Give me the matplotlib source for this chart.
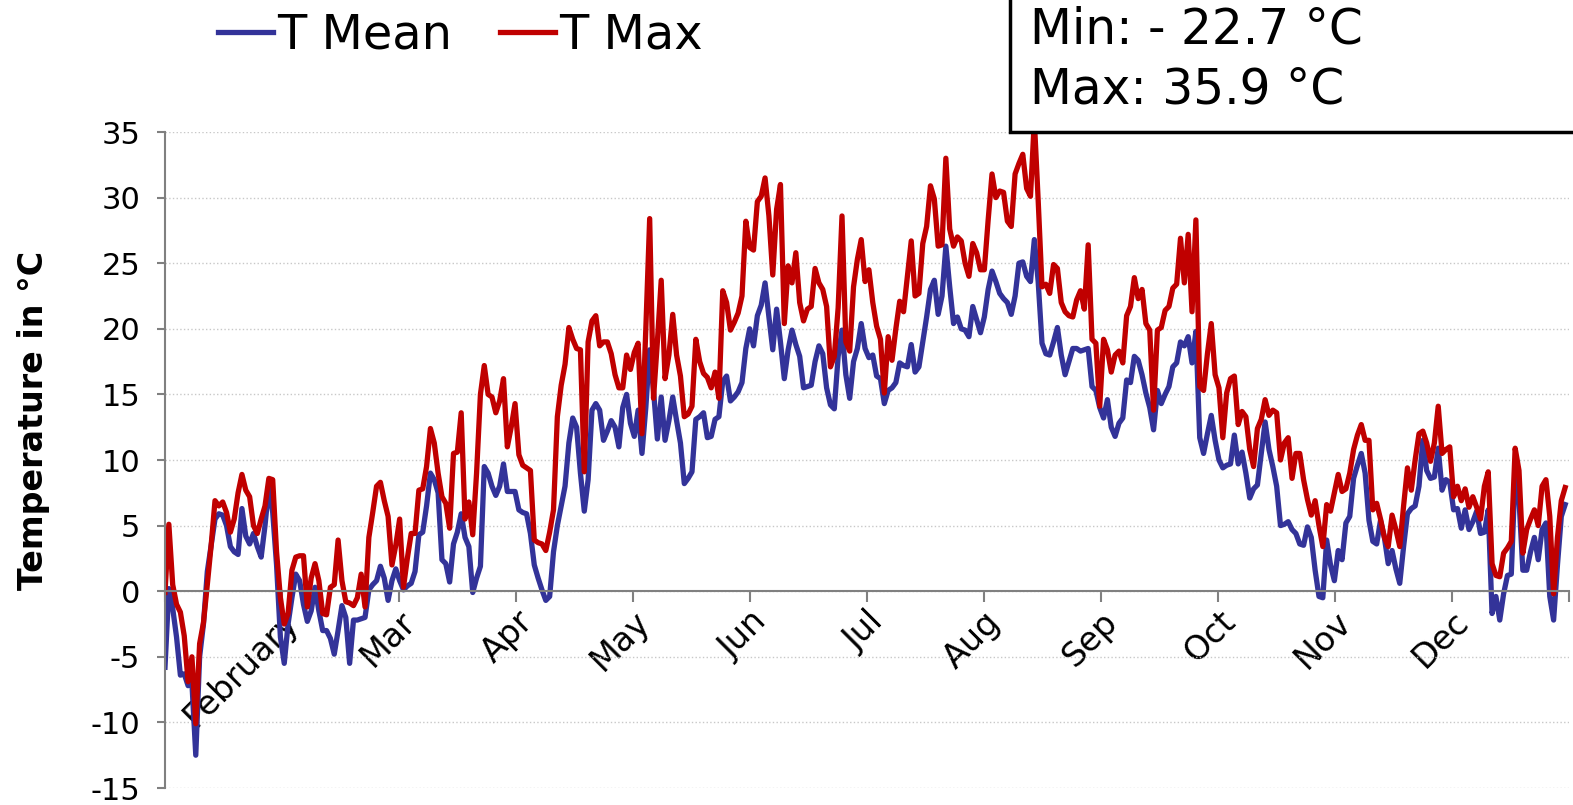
import numpy as np
import matplotlib.pyplot as plt
from matplotlib.patches import Rectangle

plt.rcParams['font.family'] = ['DejaVu Sans']
plt.rcParams['axes.unicode_minus'] = False

# Daily mean temperature (°C), one value per day of the year
t_mean = [
    -5.8, 0.2, -1.3, -3.5, -6.4, -6.3, -7.2, -7.0, -12.5, -5.0,
    -2.5, 1.5, 3.5, 5.5, 5.9, 5.8, 5.0, 3.4, 3.0, 2.8,
    6.3, 4.2, 3.6, 4.4, 3.4, 2.6, 5.0, 8.0, 6.0, 2.0,
    -3.5, -5.5, -2.5, -0.5, 1.3, 0.8, -1.0, -2.3, -1.5, 0.3,
    -1.5, -3.0, -3.0, -3.6, -4.8, -3.0, -1.1, -2.0, -5.5, -2.2,
    -2.2, -2.1, -2.0, 0.1, 0.5, 0.8, 1.9, 1.0, -0.7, 0.8,
    1.7, 0.8, 0.1, 0.4, 0.6, 1.5, 4.3, 4.5, 6.5, 9.0,
    8.5, 7.5, 2.4, 2.1, 0.7, 3.6, 4.5, 5.9, 4.1, 3.4,
    -0.1, 1.0, 1.9, 9.5, 9.0, 8.0, 7.3, 8.0, 9.7, 7.6,
    7.6, 7.6, 6.2, 6.0, 5.9, 4.4, 2.0, 1.0, 0.1, -0.7,
    -0.4, 3.0, 5.0, 6.5, 8.0, 11.3, 13.2, 12.5, 9.0, 6.1,
    8.5, 13.8, 14.3, 13.8, 11.5, 12.2, 13.0, 12.5, 11.0, 14.0,
    15.0, 12.8, 11.8, 13.8, 10.5, 14.0, 18.4, 15.3, 11.6, 14.8,
    11.5, 13.0, 14.8, 13.0, 11.3, 8.2, 8.6, 9.1, 13.1, 13.3,
    13.6, 11.7, 11.8, 13.1, 13.3, 16.0, 16.4, 14.5, 14.8, 15.2,
    15.9, 18.5, 20.0, 18.7, 21.0, 21.8, 23.5, 20.9, 18.4, 21.5,
    19.0, 16.2, 18.4, 19.9, 18.8, 17.9, 15.5, 15.6, 15.7, 17.5,
    18.7, 18.1, 15.5, 14.2, 13.9, 17.9, 19.9, 16.5, 14.7, 17.5,
    18.5, 20.4, 18.5, 17.8, 18.0, 16.4, 16.2, 14.3, 15.3, 15.5,
    15.9, 17.4, 17.2, 17.1, 18.8, 16.7, 17.1, 19.0, 20.9, 23.0,
    23.7, 21.1, 22.5, 26.3, 23.2, 20.4, 20.9, 20.0, 19.9, 19.4,
    21.7, 20.7, 19.7, 20.9, 23.0, 24.4, 23.6, 22.7, 22.3, 22.0,
    21.1, 22.5, 25.0, 25.1, 24.0, 23.6, 26.8, 23.6, 18.9, 18.1,
    18.0, 19.0, 20.1, 18.0, 16.5, 17.5, 18.5, 18.5, 18.3, 18.4,
    18.5, 15.6, 15.3, 14.0, 13.2, 14.6, 12.5, 11.8, 12.8, 13.2,
    16.1, 15.9, 17.9, 17.6, 16.5, 15.1, 14.0, 12.3, 15.3, 14.3,
    15.0, 15.6, 17.1, 17.4, 19.0, 18.7, 19.4, 17.4, 19.8, 11.7,
    10.5, 12.0, 13.4, 11.5, 10.0, 9.4, 9.6, 9.7, 11.9, 9.7,
    10.6, 9.0, 7.1, 7.8, 8.1, 10.5, 12.9, 10.8, 9.5, 8.0,
    5.0, 5.1, 5.3, 4.7, 4.4, 3.6, 3.5, 4.9, 4.1, 1.6,
    -0.4, -0.5, 3.9, 2.0, 0.8, 3.1, 2.4, 5.2, 5.7, 8.6,
    9.6, 10.5, 9.0, 5.4, 3.8, 3.6, 5.4, 4.1, 2.1, 3.1,
    1.7, 0.6, 3.4, 5.9, 6.3, 6.5, 8.0, 11.5, 9.2, 8.6,
    8.7, 10.9, 7.7, 8.5, 8.3, 6.2, 6.3, 4.8, 6.2, 4.7,
    5.3, 6.1, 4.4, 4.5, 6.2, -1.7, -0.4, -2.2, -0.2, 1.2,
    1.3, 9.0, 7.0, 1.6, 1.6, 3.0, 4.1, 2.4, 4.7, 5.2,
    -0.4, -2.2, 2.0, 5.7, 6.6,
]

# Daily maximum temperature (°C)
t_max = [
    -0.1, 5.1, 0.5, -1.0, -1.6, -3.4, -6.9, -5.0, -10.1, -4.0,
    -2.4, 0.5, 3.5, 6.9, 6.5, 6.8, 6.0, 4.5, 5.5, 7.5,
    8.9, 7.7, 7.2, 5.0, 4.4, 5.5, 6.5, 8.6, 8.5, 3.0,
    -0.5, -2.5, -1.7, 1.6, 2.6, 2.7, 2.7, -1.2, 1.0, 2.1,
    0.8, -1.7, -1.8, 0.3, 0.5, 3.9, 0.8, -0.8, -0.9, -1.1,
    -0.5, 1.3, -1.2, 4.1, 6.0, 8.0, 8.3, 6.9, 5.7, 2.0,
    3.5, 5.5, 0.3, 2.5, 4.4, 4.4, 7.7, 7.8, 9.5, 12.4,
    11.3, 9.0, 7.2, 6.7, 4.8, 10.5, 10.6, 13.6, 5.5, 6.8,
    4.3, 9.0, 15.0, 17.2, 15.0, 14.8, 13.6, 14.5, 16.2, 11.0,
    12.5, 14.3, 10.4, 9.6, 9.4, 9.2, 3.9, 3.7, 3.6, 3.1,
    4.5, 6.2, 13.3, 15.7, 17.3, 20.1, 19.2, 18.5, 18.4, 9.1,
    19.0, 20.6, 21.0, 18.7, 19.0, 19.0, 18.1, 16.5, 15.5, 15.5,
    18.0, 16.9, 18.2, 18.9, 12.0, 20.0, 28.4, 14.7, 19.0, 23.7,
    16.2, 18.0, 21.1, 18.0, 16.4, 13.3, 13.5, 14.1, 19.2, 17.5,
    16.6, 16.3, 15.5, 16.7, 14.7, 22.9, 22.0, 19.9, 20.5, 21.2,
    22.5, 28.2, 26.2, 26.0, 29.7, 30.1, 31.5, 28.6, 24.1, 29.1,
    31.0, 20.4, 24.8, 23.5, 25.8, 22.0, 20.6, 21.5, 21.7, 24.6,
    23.5, 23.0, 21.7, 17.1, 17.9, 21.6, 28.6, 19.0, 18.3, 23.2,
    25.3, 26.8, 23.6, 24.5, 22.0, 20.2, 19.2, 15.1, 19.4, 17.6,
    20.0, 22.1, 21.3, 24.0, 26.7, 22.5, 22.7, 26.5, 27.8, 30.9,
    29.9, 26.3, 26.4, 33.0, 27.6, 26.3, 27.0, 26.7, 25.0, 24.0,
    26.5, 25.8, 24.5, 24.5, 28.3, 31.8, 30.0, 30.5, 30.4, 28.2,
    27.8, 31.8, 32.6, 33.3, 30.7, 30.1, 35.9, 29.8, 23.2, 23.4,
    22.7, 24.9, 24.6, 22.0, 21.3, 21.0, 20.9, 22.2, 22.9, 21.5,
    26.4, 19.2, 18.9, 14.1, 19.2, 18.4, 16.7, 18.0, 18.3, 17.4,
    21.0, 21.7, 23.9, 22.3, 23.0, 20.4, 19.9, 13.8, 19.9, 20.1,
    21.4, 21.7, 23.1, 23.4, 26.9, 23.5, 27.2, 21.3, 28.3, 15.6,
    15.3, 18.1, 20.4, 16.5, 15.5, 11.7, 15.1, 16.2, 16.4, 12.7,
    13.7, 13.3, 10.8, 9.5, 12.4, 13.1, 14.6, 13.4, 13.8, 13.6,
    10.0, 11.3, 11.7, 8.6, 10.5, 10.5, 8.5, 7.0, 5.8, 6.9,
    5.0, 3.4, 6.6, 6.1, 7.5, 8.9, 7.6, 7.8, 9.0, 10.8,
    11.9, 12.7, 11.5, 11.5, 6.2, 6.7, 5.5, 4.1, 3.4, 5.8,
    4.7, 3.4, 6.5, 9.4, 7.7, 10.0, 12.0, 12.2, 11.3, 9.9,
    11.3, 14.1, 10.5, 10.8, 11.0, 7.2, 8.0, 6.9, 7.8, 6.4,
    7.2, 6.4, 5.5, 8.0, 9.1, 2.1, 1.2, 1.1, 2.9, 3.3,
    3.8, 10.9, 9.2, 2.9, 4.7, 5.5, 6.2, 5.0, 8.0, 8.5,
    5.7, -0.2, 4.1, 6.9, 7.9,
]

# Month axis labels (first and last tick left blank)
month_labels = ['', 'February', 'Mar', 'Apr', 'May', 'Jun', 'Jul',
                'Aug', 'Sep', 'Oct', 'Nov', 'Dec', '']

# Yearly extremes shown in the info box
year_min = -22.7
year_max = max(t_max)

fig = plt.figure(figsize=(15.73, 8.05), dpi=100)
ax = fig.add_axes([165 / 1573, 17 / 805, 1404 / 1573, 656 / 805])

ax.plot(np.arange(len(t_mean)), t_mean, color='#333399', lw=3.8, label='T Mean')
ax.plot(np.arange(len(t_max)), t_max, color='#c00000', lw=3.8, label='T Max')

# spines first: moving the bottom spine rebuilds the ticks
for s in ['top', 'right']:
    ax.spines[s].set_visible(False)
ax.spines['bottom'].set_position(('data', 0))
for s in ['left', 'bottom']:
    ax.spines[s].set_color('#808080')
    ax.spines[s].set_linewidth(1.5)

ax.set_xlim(0, 365)
ax.set_ylim(-15, 35)
ax.set_yticks(np.arange(-15, 36, 5))
ax.tick_params(axis='y', labelsize=22, length=6, width=1.5, color='#808080', pad=12)

# month ticks, evenly spaced, labels hanging off the zero line
ax.tick_params(axis='x', labelsize=24, length=8, width=1.5, color='#808080', pad=2)
ax.set_xticks(np.arange(13) * 365 / 12)
ax.set_xticklabels(month_labels, rotation=45, ha='right', va='top', rotation_mode='anchor')

ax.yaxis.grid(True, color='#c8c8c8', linestyle=':', lw=1)
ax.set_axisbelow(True)

fig.text(34 / 1573, 1 - 420 / 805, 'Temperature in °C', rotation=90,
         fontsize=24, fontweight='bold', ha='center', va='center')

fig.legend(loc='center left', bbox_to_anchor=(218 / 1573, 1 - 35 / 805), ncol=2,
           frameon=False, fontsize=34.5, handlelength=1.15, handletextpad=0.08,
           columnspacing=1.0, borderpad=0, borderaxespad=0)

# info box with yearly extremes
fig.add_artist(Rectangle((1010 / 1573, 1 - 132 / 805), 0.5, 0.5, transform=fig.transFigure,
                         facecolor='white', edgecolor='black', lw=2.5, clip_on=False))
fig.text(1030 / 1573, 1 - 30 / 805, f'Min: - {abs(year_min):.1f} °C', fontsize=35, va='center')
fig.text(1030 / 1573, 1 - 90 / 805, f'Max: {year_max:.1f} °C', fontsize=35, va='center')

fig.savefig('out.png', dpi=100)
